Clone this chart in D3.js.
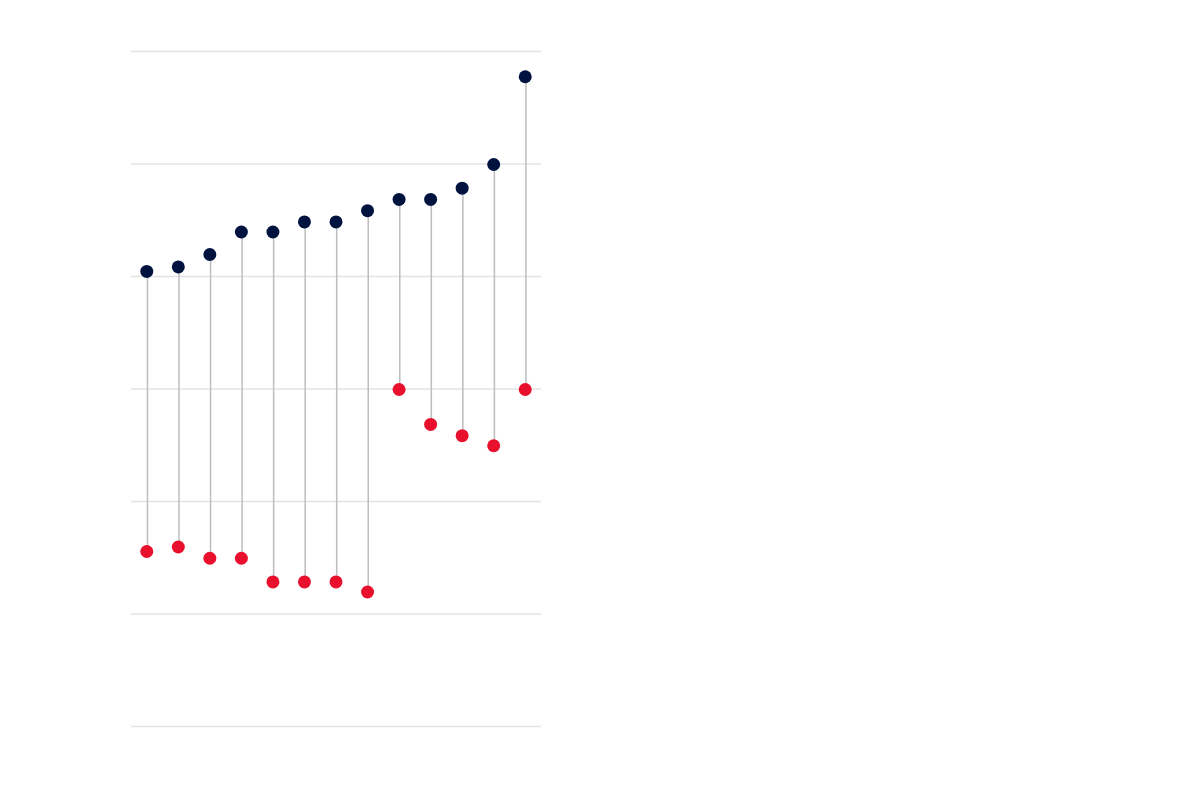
<!DOCTYPE html>
<html>
<head>
<meta charset="utf-8">
<script src="https://cdn.jsdelivr.net/npm/d3@7"></script>
<style>
  html, body { margin: 0; padding: 0; background: #fff; }
  svg { display: block; }
</style>
</head>
<body>
<svg id="chart" width="1200" height="800"></svg>
<script>
const categories = ["1", "2", "3", "4", "5", "6", "7", "8", "9", "10", "11", "12", "13"];
const highValues = [40.5, 40.9, 42.0, 44.0, 44.0, 44.9, 44.9, 45.9, 46.9, 46.9, 47.9, 50.0, 57.8];
const lowValues  = [15.6, 16.0, 15.0, 15.0, 12.9, 12.9, 12.9, 12.0, 30.0, 26.9, 25.9, 25.0, 30.0];
const yTicks = [0, 10, 20, 30, 40, 50, 60];

const svg = d3.select("#chart");
const margin = { left: 131, right: 659, top: 51, bottom: 74 };
const W = 1200, H = 800;

const x = d3.scalePoint()
  .domain(categories)
  .range([margin.left, W - margin.right])
  .padding(0.5);

const y = d3.scaleLinear()
  .domain([0, 60])
  .range([H - margin.bottom, margin.top]);

// gridlines
const grid = svg.append("g")
  .attr("transform", `translate(${margin.left},0)`)
  .call(d3.axisLeft(y).tickValues(yTicks).tickSize(-(W - margin.left - margin.right)).tickFormat(""));
grid.select(".domain").remove();
grid.selectAll(".tick line").attr("stroke", "#e3e3e3").attr("stroke-width", 1.3);

const data = categories.map((c, i) => ({ c, hi: highValues[i], lo: lowValues[i] }));

// connecting lines
svg.append("g").selectAll("line")
  .data(data)
  .join("line")
  .attr("x1", d => x(d.c) + 0.7)
  .attr("x2", d => x(d.c) + 0.7)
  .attr("y1", d => y(d.hi))
  .attr("y2", d => y(d.lo))
  .attr("stroke", "#bdbdbd")
  .attr("stroke-width", 1.5);

// low dots
svg.append("g").selectAll("circle")
  .data(data)
  .join("circle")
  .attr("cx", d => x(d.c))
  .attr("cy", d => y(d.lo) + 1)
  .attr("r", 6.5)
  .attr("fill", "#e8102d");

// high dots
svg.append("g").selectAll("circle")
  .data(data)
  .join("circle")
  .attr("cx", d => x(d.c))
  .attr("cy", d => y(d.hi) + 1)
  .attr("r", 6.5)
  .attr("fill", "#00133f");
</script>
</body>
</html>
